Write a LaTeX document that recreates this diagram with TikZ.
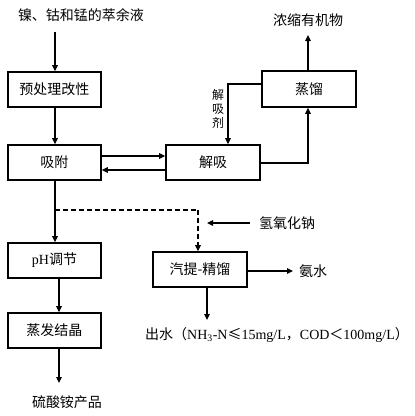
\documentclass[tikz,border=0pt]{standalone}
\usepackage{fontspec}
\setmainfont{Liberation Serif}
\newfontfamily\cjk{Noto Sans CJK SC}
\usetikzlibrary{arrows.meta}
\begin{document}
\begin{tikzpicture}[x=1pt,y=-1pt,
  procbox/.style={draw,line width=1.6pt,minimum width=93pt,minimum height=35pt,inner sep=0pt,font=\fontsize{14}{16}\selectfont\cjk},
  lbl/.style={inner sep=0pt,font=\fontsize{14}{16}\selectfont\cjk},
  conn/.style={line width=1.1pt,-{Triangle[length=6pt,width=5.5pt]}},
  plainline/.style={line width=1.1pt},
  dashline/.style={line width=1.1pt,dash pattern=on 5pt off 3pt}]
\useasboundingbox (0,0) rectangle (415,416);
\fill[white] (0,0) rectangle (415,416);
% boxes
\node[procbox] (pre) at (54.5,89.5) {预处理改性};
\node[procbox] (ads) at (54.5,162.5) {吸附};
\node[procbox,minimum width=94pt] (des) at (213,162.5) {解吸};
\node[procbox,minimum width=94pt,minimum height=36pt] (dist) at (309,89) {蒸馏};
\node[procbox] (ph) at (54.5,260.5) {\fontspec{Liberation Serif}pH{\cjk 调节}};
\node[procbox] (evap) at (54.5,330.5) {蒸发结晶};
\node[procbox,minimum width=94pt] (strip) at (200,269.5) {汽提-精馏};
% labels
\node[lbl] (feed) at (81,15) {镍、钴和锰的萃余液};
\node[lbl] (org) at (308,20) {浓缩有机物};
\node[inner sep=0pt,font=\fontsize{12}{14}\selectfont\cjk,align=center] (agent) at (218,109) {解\\吸\\剂};
\node[lbl] (naoh) at (287,223) {氢氧化钠};
\node[lbl] (amm) at (313,271) {氨水};
\node[lbl,font=\fontsize{14}{16}\selectfont] (water) at (277,335) {{\cjk 出水（}NH\textsubscript{3}-N{\cjk ≤}15mg/L{\cjk ，}COD{\cjk ＜}100mg/L{\cjk ）}};
\node[lbl] (prod) at (67,402) {硫酸铵产品};
% coordinates
\coordinate (feedend) at (55,32);
\coordinate (orgend) at (308,35);
\coordinate (naohstart) at (250,223);
\coordinate (naohend) at (207,223);
\coordinate (ammend) at (293,271);
\coordinate (waterend) at (207,320);
\coordinate (prodend) at (59,383);
\coordinate (dashstart) at (55,210);
\coordinate (dashcorner) at (198,210);
% connectors
\draw[conn] (feedend) -- (feedend |- pre.north);
\draw[conn] (pre.south -| feedend) -- (ads.north -| feedend);
\draw[conn] (ads.east |- 0,156) -- (des.west |- 0,156);
\draw[conn] (des.west |- 0,170) -- (ads.east |- 0,170);
\draw[conn] (dist.west |- 0,84) -| (des.north -| 228,0);
\draw[conn] (des.east |- 0,163) -| (dist.south -| orgend);
\draw[conn] (dist.north -| orgend) -- (orgend);
\draw[conn] (ads.south -| feedend) -- (ph.north -| feedend);
\draw[dashline] (dashstart) -- (dashcorner);
\draw[dashline,-{Triangle[length=6pt,width=5.5pt]}] (dashcorner) -- (strip.north -| dashcorner);
\draw[conn] (naohstart) -- (naohend);
\draw[conn] (strip.east |- ammend) -- (ammend);
\draw[conn] (strip.south -| waterend) -- (waterend);
\draw[conn] (ph.south -| prodend) -- (evap.north -| prodend);
\draw[conn] (evap.south -| prodend) -- (prodend);
\end{tikzpicture}
\end{document}
